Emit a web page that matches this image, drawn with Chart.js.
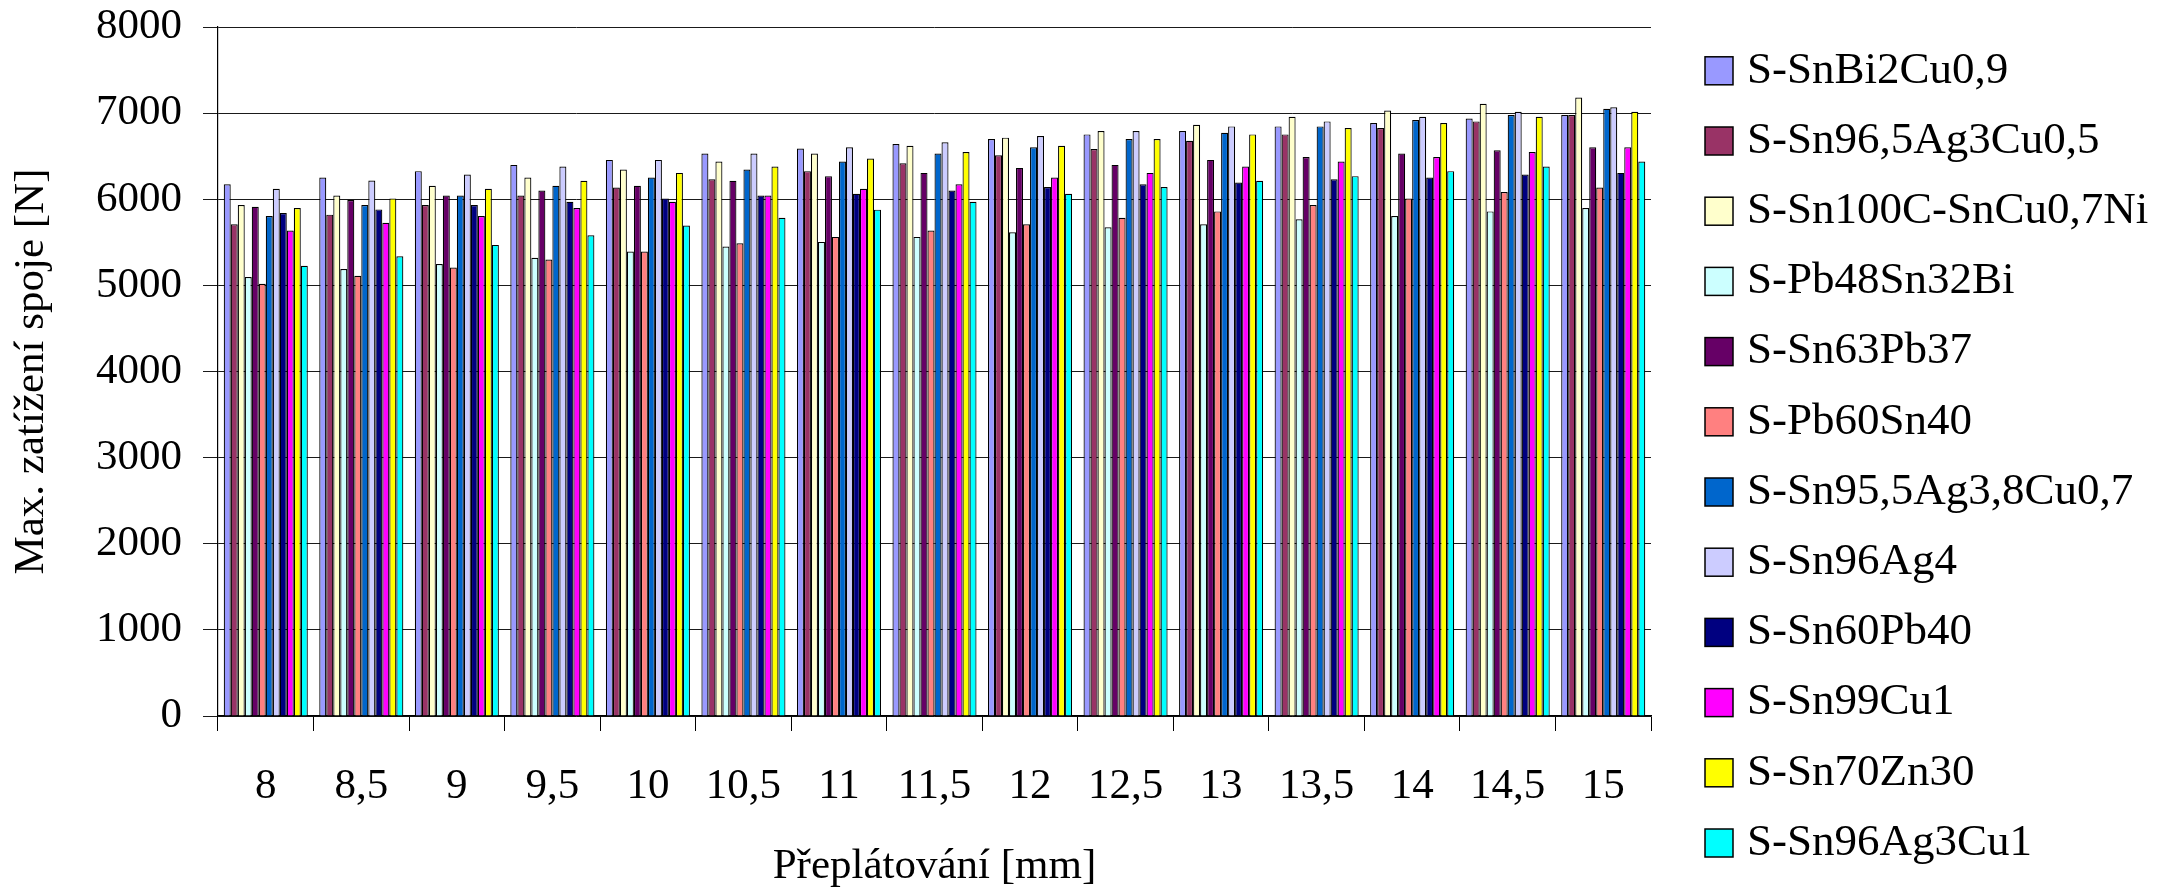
<!DOCTYPE html>
<html>
<head>
<meta charset="utf-8">
<script src="https://cdn.jsdelivr.net/npm/chart.js@4.4.1/dist/chart.umd.min.js"></script>
<style>
  html, body { margin: 0; padding: 0; background: #ffffff; }
  #wrap { width: 2159px; height: 891px; }
</style>
</head>
<body>
<div id="wrap"><canvas id="c" width="2159" height="891"></canvas></div>
<script>
// ---- data ----
const categories = ['8', '8,5', '9', '9,5', '10', '10,5', '11', '11,5', '12', '12,5', '13', '13,5', '14', '14,5', '15'];
const yTicks = [0, 1000, 2000, 3000, 4000, 5000, 6000, 7000, 8000];
const seriesNames = ['S-SnBi2Cu0,9', 'S-Sn96,5Ag3Cu0,5', 'S-Sn100C-SnCu0,7Ni', 'S-Pb48Sn32Bi', 'S-Sn63Pb37', 'S-Pb60Sn40',
  'S-Sn95,5Ag3,8Cu0,7', 'S-Sn96Ag4', 'S-Sn60Pb40', 'S-Sn99Cu1', 'S-Sn70Zn30', 'S-Sn96Ag3Cu1'];

const snBi2Cu09     = [6175, 6252, 6326, 6399, 6457, 6530, 6588, 6642, 6699, 6753, 6792, 6846, 6884, 6938, 6977];
const sn965Ag3Cu05  = [5709, 5821, 5933, 6044, 6137, 6233, 6326, 6418, 6511, 6584, 6680, 6753, 6827, 6904, 6977];
const sn100C        = [5933, 6044, 6156, 6252, 6345, 6437, 6530, 6622, 6715, 6792, 6865, 6958, 7031, 7108, 7181];
const pb48Sn32Bi    = [5096, 5189, 5247, 5320, 5393, 5451, 5505, 5563, 5617, 5674, 5709, 5767, 5805, 5859, 5898];
const sn63Pb37      = [5913, 5990, 6044, 6102, 6156, 6214, 6268, 6306, 6364, 6399, 6457, 6491, 6530, 6568, 6603];
const pb60Sn40      = [5019, 5112, 5208, 5301, 5393, 5489, 5563, 5636, 5709, 5786, 5859, 5933, 6010, 6083, 6137];
const sn955Ag38Cu07 = [5805, 5933, 6044, 6156, 6252, 6345, 6437, 6530, 6603, 6699, 6773, 6846, 6919, 6977, 7050];
const sn96Ag4       = [6121, 6218, 6287, 6380, 6457, 6530, 6603, 6661, 6734, 6792, 6846, 6904, 6958, 7015, 7069];
const sn60Pb40      = [5840, 5882, 5933, 5971, 6010, 6044, 6064, 6102, 6141, 6175, 6195, 6233, 6252, 6287, 6306];
const sn99Cu1       = [5636, 5728, 5805, 5898, 5971, 6044, 6121, 6175, 6252, 6306, 6380, 6437, 6491, 6549, 6603];
const sn70Zn30      = [5898, 6010, 6121, 6214, 6306, 6380, 6472, 6549, 6622, 6699, 6753, 6827, 6884, 6958, 7015];
const sn96Ag3Cu1    = [5227, 5339, 5470, 5582, 5694, 5786, 5879, 5971, 6064, 6141, 6214, 6268, 6326, 6380, 6437];

const seriesValues = [snBi2Cu09, sn965Ag3Cu05, sn100C, pb48Sn32Bi, sn63Pb37, pb60Sn40,
  sn955Ag38Cu07, sn96Ag4, sn60Pb40, sn99Cu1, sn70Zn30, sn96Ag3Cu1];
const seriesColors = ['#9999FF', '#993366', '#FFFFCC', '#CCFFFF', '#660066', '#FF8080',
  '#0066CC', '#CCCCFF', '#000080', '#FF00FF', '#FFFF00', '#00FFFF'];

const yTitle = 'Max. zatížení spoje [N]';
const xTitle = 'Přeplátování [mm]';

// ---- chart ----
const FONT = '"Liberation Serif", "Times New Roman", serif';

const datasets = seriesNames.map((name, i) => ({
  label: name,
  data: seriesValues[i],
  backgroundColor: seriesColors[i],
  borderColor: '#000000',
  borderWidth: 1.2,
  categoryPercentage: 0.88,
  barPercentage: 1.0
}));

const sideLegend = {
  id: 'sideLegend',
  afterDraw(chart) {
    const ctx = chart.ctx;
    ctx.save();
    const boxX = 1705, boxS = 28, textX = 1747, y0 = 70.8, step = 70.2;
    ctx.font = '45px ' + FONT;
    ctx.textBaseline = 'middle';
    ctx.textAlign = 'left';
    chart.data.datasets.forEach((ds, i) => {
      const y = y0 + i * step;
      ctx.fillStyle = ds.backgroundColor;
      ctx.fillRect(boxX, y - boxS / 2, boxS, boxS);
      ctx.lineWidth = 1.5;
      ctx.strokeStyle = '#000000';
      ctx.strokeRect(boxX, y - boxS / 2, boxS, boxS);
      ctx.fillStyle = '#000000';
      ctx.fillText(ds.label, textX, y);
    });
    ctx.restore();
  }
};

const whiteBg = {
  id: 'whiteBg',
  beforeDraw(chart) {
    const ctx = chart.ctx;
    ctx.save();
    ctx.fillStyle = '#ffffff';
    ctx.fillRect(0, 0, chart.width, chart.height);
    ctx.restore();
  }
};

new Chart(document.getElementById('c'), {
  type: 'bar',
  data: { labels: categories, datasets },
  options: {
    responsive: false,
    devicePixelRatio: 1,
    animation: false,
    layout: { padding: { left: 0, right: 508, top: 27, bottom: 0 } },
    plugins: {
      legend: { display: false },
      tooltip: { enabled: false }
    },
    scales: {
      x: {
        offset: true,
        grid: {
          offset: true,
          drawOnChartArea: false,
          drawTicks: true,
          tickLength: 15,
          color: '#000000',
          lineWidth: 1
        },
        border: { display: true, color: '#000000', width: 1.5 },
        ticks: {
          color: '#000000',
          font: { family: FONT, size: 43, lineHeight: 1 },
          padding: 34,
          maxRotation: 0,
          autoSkip: false
        },
        title: {
          display: true,
          text: xTitle,
          color: '#000000',
          font: { family: FONT, size: 43, lineHeight: 1 },
          padding: { top: 0, bottom: 3 }
        },
        afterFit(scale) {
          scale.height = 175;
          scale.paddingLeft = 0;
          scale.paddingRight = 0;
        }
      },
      y: {
        min: 0,
        max: 8000,
        afterBuildTicks(scale) { scale.ticks = yTicks.map(v => ({ value: v })); },
        grid: {
          color: '#1a1a1a',
          lineWidth: 1,
          drawTicks: true,
          tickLength: 15
        },
        border: { display: true, color: '#000000', width: 1.2 },
        ticks: {
          color: '#000000',
          font: { family: FONT, size: 43, lineHeight: 1 },
          padding: 21,
          callback: (v) => String(v)
        },
        title: {
          display: true,
          text: yTitle,
          color: '#000000',
          font: { family: FONT, size: 43, lineHeight: 1 },
          padding: { top: 10, bottom: 0 }
        },
        afterFit(scale) {
          scale.width = 218;
          scale.paddingTop = 0;
          scale.paddingBottom = 0;
        }
      }
    }
  },
  plugins: [whiteBg, sideLegend]
});
</script>
</body>
</html>
